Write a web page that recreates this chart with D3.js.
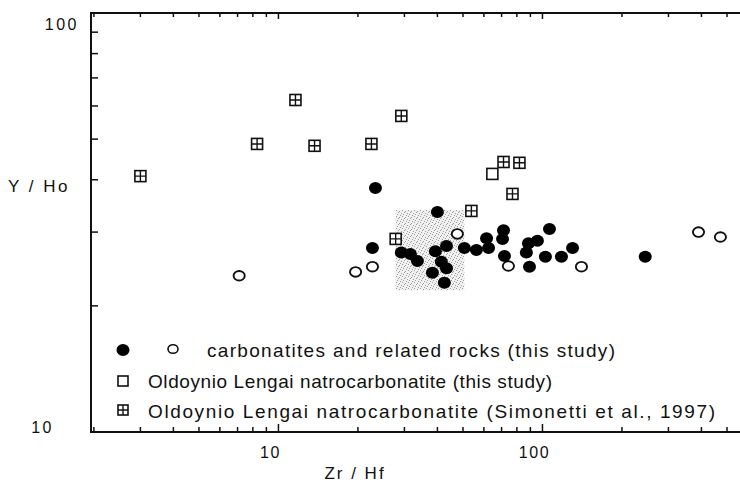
<!DOCTYPE html>
<html>
<head>
<meta charset="utf-8">
<script src="https://cdn.jsdelivr.net/npm/d3@7"></script>
<style>
  body { margin: 0; background: #fff; }
  text { font-family: "Liberation Sans", Arial, sans-serif; fill: #111; }
</style>
</head>
<body>
<div id="grafico"></div>
<script>
// ---- datos (Zr/Hf, Y/Ho) ----
const filledZrHf = [23.3, 40.0, 22.7, 29.2, 31.6, 33.6, 38.3, 42.5, 39.3, 43.3, 41.4, 43.3, 50.6, 56.2,
  61.4, 62.5, 71.2, 70.6, 71.8, 88.5, 95.7, 86.9, 89.3, 102.6, 106.3, 118, 130, 245];
const filledYHo = [38.2, 33.5, 27.5, 26.8, 26.6, 25.6, 24.0, 22.7, 27.0, 27.8, 25.5, 24.6, 27.5, 27.2,
  29.0, 27.5, 30.3, 28.9, 26.3, 28.2, 28.6, 26.8, 24.8, 26.2, 30.5, 26.2, 27.5, 26.2];

const openZrHf = [7.1, 19.6, 22.7, 47.6, 74.3, 140.5, 390, 472];
const openYHo = [23.6, 24.1, 24.8, 29.7, 24.9, 24.8, 30.0, 29.2];

const lengaiZrHf = [64.6];
const lengaiYHo = [41.3];

const simonettiZrHf = [3.0, 8.3, 11.6, 13.7, 22.5, 29.2, 71.2, 81.8, 77.0, 53.8, 27.8];
const simonettiYHo = [40.8, 48.7, 62.0, 48.2, 48.7, 56.8, 44.1, 43.9, 37.0, 33.7, 28.9];

// campo sombreado
const shadeZrHf = [27.8, 50.6];
const shadeYHo = [21.8, 33.9];

const xMajor = [10, 100];
const yMajor = [10, 100];
const legendLabels = [
  "carbonatites and related rocks (this study)",
  "Oldoynio Lengai natrocarbonatite (this study)",
  "Oldoynio Lengai natrocarbonatite (Simonetti et al., 1997)"
];

// ---- configuración ----
const width = 740;
const height = 488;
const mLeft = 91, mRight = 740, mTop = 13, mBottom = 432;

const svg = d3.select("#grafico")
  .append("svg")
  .attr("width", width)
  .attr("height", height);

const x = d3.scaleLog().domain([1.95, 560]).range([mLeft, mRight]);
const y = d3.scaleLog().domain([10, 100]).range([mBottom, mTop]);

// patrón punteado para el campo gris
const defs = svg.append("defs");
const pat = defs.append("pattern")
  .attr("id", "stipple")
  .attr("width", 6).attr("height", 6)
  .attr("patternUnits", "userSpaceOnUse");
pat.append("rect").attr("width", 6).attr("height", 6).attr("fill", "#f0f0f0");
[[0, 0], [3, 1], [5, 3], [1, 4], [4, 5], [2, 2]].forEach(p => {
  pat.append("rect").attr("x", p[0]).attr("y", p[1]).attr("width", 1).attr("height", 1).attr("fill", "#a0a0a0");
});

svg.append("rect")
  .attr("x", x(shadeZrHf[0]))
  .attr("y", y(shadeYHo[1]))
  .attr("width", x(shadeZrHf[1]) - x(shadeZrHf[0]))
  .attr("height", y(shadeYHo[0]) - y(shadeYHo[1]))
  .attr("fill", "url(#stipple)");

// ---- ejes ----
const xMinor = [];
[1, 10, 100].forEach(d => { for (let i = 2; i <= 9; i++) { const v = d * i; if (v > 1.95 && v < 560) xMinor.push(v); } });
const yMinor = [];
for (let i = 2; i <= 9; i++) yMinor.push(10 * i);

const axes = svg.append("g").attr("stroke", "#111").attr("stroke-width", 2).attr("fill", "none");
axes.append("path").attr("d", `M${mRight},${mTop}H${mLeft}V${mBottom}H${mRight}`);

const ticks = svg.append("g").attr("stroke", "#111").attr("stroke-width", 1.5);
// abajo
ticks.selectAll(".xb").data(xMinor.concat(xMajor)).join("line")
  .attr("x1", d => x(d)).attr("x2", d => x(d))
  .attr("y1", mBottom).attr("y2", d => mBottom - (xMajor.includes(d) ? 8 : 5));
// arriba
ticks.selectAll(".xt").data(xMinor.concat(xMajor)).join("line")
  .attr("x1", d => x(d)).attr("x2", d => x(d))
  .attr("y1", mTop).attr("y2", d => mTop + (xMajor.includes(d) ? 6 : 4));
// izquierda
ticks.selectAll(".yl").data(yMinor).join("line")
  .attr("x1", mLeft).attr("x2", mLeft + 7)
  .attr("y1", d => y(d)).attr("y2", d => y(d));

// etiquetas
svg.selectAll(".xlab").data(xMajor).join("text")
  .attr("x", d => x(d) - 8).attr("y", 458)
  .attr("text-anchor", "middle")
  .style("font-size", "16px").style("letter-spacing", "1.5px")
  .text(d => d);

svg.selectAll(".ylab").data(yMajor).join("text")
  .attr("x", d => d === 100 ? 79 : 54)
  .attr("y", d => y(d) + (d === 100 ? 17 : 1))
  .attr("text-anchor", "end")
  .style("font-size", "16px").style("letter-spacing", "2.5px")
  .text(d => d);

svg.append("text").attr("x", 39).attr("y", 192).attr("text-anchor", "middle")
  .style("font-size", "17px").style("letter-spacing", "2.5px").text("Y / Ho");
svg.append("text").attr("x", 355).attr("y", 479).attr("text-anchor", "middle")
  .style("font-size", "17px").style("letter-spacing", "2px").text("Zr / Hf");

// ---- símbolos ----
function crossedSquare(sel, s) {
  sel.append("rect").attr("x", -s / 2).attr("y", -s / 2).attr("width", s).attr("height", s)
    .attr("fill", "#fff").attr("stroke", "#111").attr("stroke-width", 1.6);
  sel.append("path").attr("d", `M0,${-s / 2}V${s / 2}M${-s / 2},0H${s / 2}`)
    .attr("stroke", "#111").attr("stroke-width", 1.4);
}

const pts = svg.append("g");

pts.selectAll(".simo").data(simonettiZrHf).join("g")
  .attr("transform", (d, i) => `translate(${x(d)},${y(simonettiYHo[i])})`)
  .each(function () { crossedSquare(d3.select(this), 11); });

pts.selectAll(".lengai").data(lengaiZrHf).join("rect")
  .attr("x", d => x(d) - 5.5).attr("y", (d, i) => y(lengaiYHo[i]) - 5.5)
  .attr("width", 11).attr("height", 11)
  .attr("fill", "#fff").attr("stroke", "#111").attr("stroke-width", 1.6);

pts.selectAll(".open").data(openZrHf).join("ellipse")
  .attr("cx", d => x(d)).attr("cy", (d, i) => y(openYHo[i]))
  .attr("rx", 5.6).attr("ry", 4.8)
  .attr("fill", "#fff").attr("stroke", "#111").attr("stroke-width", 1.9);

pts.selectAll(".filled").data(filledZrHf).join("ellipse")
  .attr("cx", d => x(d)).attr("cy", (d, i) => y(filledYHo[i]))
  .attr("rx", 6.5).attr("ry", 6)
  .attr("fill", "#000");

// ---- leyenda ----
const leg = svg.append("g");
leg.append("ellipse").attr("cx", 123).attr("cy", 350).attr("rx", 6.5).attr("ry", 6).attr("fill", "#000");
leg.append("ellipse").attr("cx", 173).attr("cy", 349).attr("rx", 5).attr("ry", 4.3)
  .attr("fill", "#fff").attr("stroke", "#111").attr("stroke-width", 1.6);
leg.append("rect").attr("x", 118).attr("y", 376).attr("width", 10).attr("height", 10)
  .attr("fill", "#fff").attr("stroke", "#111").attr("stroke-width", 1.6);
leg.append("g").attr("transform", "translate(123,410)").call(g => crossedSquare(g, 10));

const legendWidths = [408, 404, 567];
leg.selectAll(".lt").data(legendLabels).join("text")
  .attr("x", (d, i) => i === 0 ? 207 : 148)
  .attr("y", (d, i) => 357 + i * 30.5)
  .attr("textLength", (d, i) => legendWidths[i])
  .attr("lengthAdjust", "spacing")
  .style("font-size", "19px")
  .text(d => d);
</script>
</body>
</html>
